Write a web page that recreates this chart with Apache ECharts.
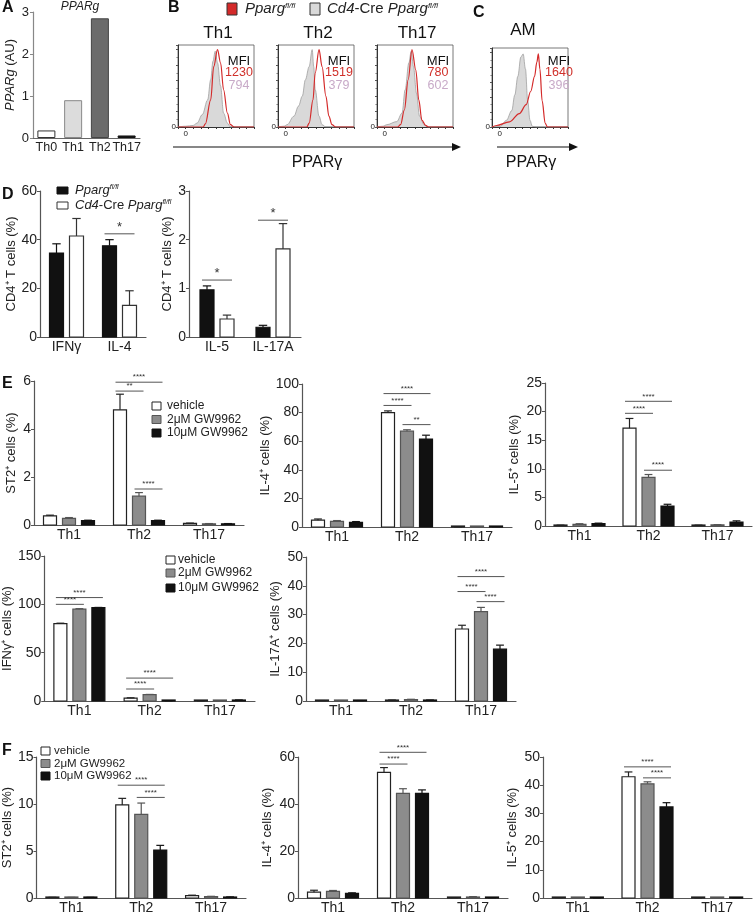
<!DOCTYPE html>
<html>
<head>
<meta charset="utf-8">
<script src="https://cdn.jsdelivr.net/npm/echarts@6/dist/echarts.min.js"></script>
<style>
html, body { margin: 0; padding: 0; background: #fff; }
#main { width: 754px; height: 915px; }
</style>
</head>
<body>
<div id="main"></div>
<script>
// ---- A: PPARg expression ----
var aCats = ['Th0', 'Th1', 'Th2', 'Th17'];
var aVals = [0.18, 0.9, 2.85, 0.06];

// ---- B / C: histograms, [x %, height %] ----
var th1Ko = [[0,0],[10,1],[20,2],[25,5],[32,16],[39,35],[43,61],[46,85],[49,98],[52,83],[56,53],[60,18],[65,5],[69,0],[100,0]];
var th1Fl = [[0,0],[33,0],[36,4],[43,35],[47,78],[52,100],[56,83],[60,48],[65,18],[69,3],[74,0],[100,0]];
var th2Ko = [[0,0],[8,1],[12,3],[21,14],[27,27],[32,40],[36,61],[41,78],[45,100],[47,78],[49,48],[54,14],[58,3],[63,0],[100,0]];
var th2Fl = [[0,0],[38,0],[41,5],[46,35],[49,70],[54,100],[58,78],[63,40],[67,14],[71,3],[76,0],[100,0]];
var th17Ko = [[0,0],[8,1],[13,3],[26,7],[33,18],[37,48],[42,83],[45,98],[48,78],[52,44],[56,14],[62,3],[66,0],[100,0]];
var th17Fl = [[0,0],[27,0],[31,3],[36,22],[41,61],[46,100],[51,74],[55,35],[59,9],[64,2],[68,0],[100,0]];
var amKo = [[0,0],[11,1],[19,9],[26,22],[30,43],[34,68],[38,94],[41,98],[44,78],[47,35],[50,9],[53,1],[58,0],[100,0]];
var amFl = [[0,0],[6,2],[23,7],[36,18],[45,30],[51,48],[56,68],[59,87],[61,98],[63,78],[66,35],[70,5],[73,0],[100,0]];
var histTitles = ['Th1', 'Th2', 'Th17', 'AM'];
var mfiFl = ['1230', '1519', '780', '1640'];
var mfiKo = ['794', '379', '602', '396'];

// ---- D ----
var dLeftCats = ['IFNγ', 'IL-4'];
var dLeftFl = [34.5, 37.5], dLeftFlSem = [3.8, 2.5];
var dLeftKo = [41.5, 13], dLeftKoSem = [7.2, 6];
var dLeftSig = [[1, 0, 1, 42.4, '*']];
var dRightCats = ['IL-5', 'IL-17A'];
var dRightFl = [0.97, 0.2], dRightFlSem = [0.08, 0.04];
var dRightKo = [0.37, 1.81], dRightKoSem = [0.08, 0.52];
var dRightSig = [[0, 0, 1, 1.17, '*'], [1, 0, 1, 2.4, '*']];

// ---- E / F: vehicle, 2uM, 10uM GW9962 ----
var thCats = ['Th1', 'Th2', 'Th17'];
var st2EVeh = [0.38, 4.8, 0.07], st2EVehSem = [0.03, 0.65, 0.01];
var st2EGw2 = [0.28, 1.2, 0.05], st2EGw2Sem = [0.03, 0.15, 0.01];
var st2EGw10 = [0.18, 0.18, 0.05], st2EGw10Sem = [0.02, 0.02, 0.01];
var st2ESig = [[1, 0, 2, 5.95, '****'], [1, 0, 1, 5.58, '**'], [1, 1, 2, 1.5, '****']];

var il4EVeh = [4.8, 80, 0.1], il4EVehSem = [0.8, 1.2, 0.05];
var il4EGw2 = [4, 67, 0.1], il4EGw2Sem = [0.5, 1, 0.05];
var il4EGw10 = [3.3, 61.5, 0.2], il4EGw10Sem = [0.5, 2.7, 0.05];
var il4ESig = [[1, 0, 2, 93.3, '****'], [1, 0, 1, 85, '****'], [1, 1, 2, 71.6, '**']];

var il5EVeh = [0.1, 17.1, 0.1], il5EVehSem = [0.05, 1.7, 0.05];
var il5EGw2 = [0.3, 8.5, 0.2], il5EGw2Sem = [0.1, 0.5, 0.05];
var il5EGw10 = [0.4, 3.5, 0.7], il5EGw10Sem = [0.1, 0.3, 0.2];
var il5ESig = [[1, 0, 2, 21.8, '****'], [1, 0, 1, 19.7, '****'], [1, 1, 2, 9.75, '****']];

var ifngEVeh = [80, 3, 0.2], ifngEVehSem = [0.5, 0.3, 0.05];
var ifngEGw2 = [95, 6.5, 0.3], ifngEGw2Sem = [0.5, 0.3, 0.05];
var ifngEGw10 = [96.5, 0.2, 1], ifngEGw10Sem = [0.3, 0.05, 0.1];
var ifngESig = [[0, 0, 2, 107, '****'], [0, 0, 1, 100, '****'], [1, 0, 2, 23.7, '****'], [1, 0, 1, 12.4, '****']];

var il17EVeh = [0.1, 0.3, 25], il17EVehSem = [0.05, 0.05, 1.3];
var il17EGw2 = [0.1, 0.5, 31], il17EGw2Sem = [0.05, 0.1, 1.5];
var il17EGw10 = [0.1, 0.3, 18], il17EGw10Sem = [0.05, 0.05, 1.4];
var il17ESig = [[2, 0, 2, 43.2, '****'], [2, 0, 1, 38, '****'], [2, 1, 2, 34.5, '****']];

var st2FVeh = [0.05, 9.9, 0.25], st2FVehSem = [0.02, 0.7, 0.05];
var st2FGw2 = [0.05, 8.9, 0.15], st2FGw2Sem = [0.02, 1.2, 0.03];
var st2FGw10 = [0.05, 5.1, 0.1], st2FGw10Sem = [0.02, 0.5, 0.02];
var st2FSig = [[1, 0, 2, 12, '****'], [1, 1, 2, 10.7, '****']];

var il4FVeh = [2.5, 53.5, 0.1], il4FVehSem = [0.8, 2, 0.05];
var il4FGw2 = [2.8, 44.5, 0.4], il4FGw2Sem = [0.4, 2, 0.2];
var il4FGw10 = [2, 44.5, 0.1], il4FGw10Sem = [0.2, 1.5, 0.05];
var il4FSig = [[1, 0, 2, 62, '****'], [1, 0, 1, 57, '****']];

var il5FVeh = [0.1, 43, 0.05], il5FVehSem = [0.05, 1.7, 0.02];
var il5FGw2 = [0.05, 40.5, 0.05], il5FGw2Sem = [0.02, 0.7, 0.02];
var il5FGw10 = [0.05, 32.3, 0.1], il5FGw10Sem = [0.02, 1.5, 0.03];
var il5FSig = [[1, 0, 2, 46.5, '****'], [1, 1, 2, 42.6, '****']];

var FONT = '"Liberation Sans", Arial, sans-serif';
var option = { animation: false, backgroundColor: '#fff', grid: [], xAxis: [], yAxis: [], series: [], graphic: [] };

function barRenderer(off, w, fill, stroke) {
  return function (params, api) {
    var top = api.coord([api.value(0), api.value(1)]);
    var base = api.coord([api.value(0), 0]);
    var err = api.coord([api.value(0), api.value(2)]);
    var cx = top[0] + off;
    var h = Math.max(base[1] - top[1], 1);
    var kids = [{ type: 'rect', shape: { x: cx - w / 2, y: base[1] - h, width: w, height: h },
      style: { fill: fill, stroke: stroke, lineWidth: 1.2 } }];
    if (api.value(2) > api.value(1)) {
      kids.push({ type: 'line', shape: { x1: cx, y1: top[1], x2: cx, y2: err[1] }, style: { stroke: stroke, lineWidth: 1.2 } });
      kids.push({ type: 'line', shape: { x1: cx - w * 0.3, y1: err[1], x2: cx + w * 0.3, y2: err[1] }, style: { stroke: stroke, lineWidth: 1.2 } });
    }
    return { type: 'group', children: kids };
  };
}

function sigRenderer(offs, w, sig) {
  return function (params, api) {
    var s = sig[params.dataIndex];
    var p = api.coord([api.value(0), api.value(1)]);
    var x1 = p[0] + offs[s[1]] - w / 2 + 2, x2 = p[0] + offs[s[2]] + w / 2 - 2;
    return { type: 'group', children: [
      { type: 'line', shape: { x1: x1, y1: p[1], x2: x2, y2: p[1] }, style: { stroke: '#555', lineWidth: 1 } },
      { type: 'text', style: { text: s[4], x: (x1 + x2) / 2, y: p[1] - (s[4] === '*' ? 0 : 1), align: 'center', verticalAlign: 'bottom',
        fontSize: s[4] === '*' ? 13 : 8, fontFamily: FONT, fill: '#333' } }
    ] };
  };
}

function barPanel(p) {
  var gi = option.grid.length;
  option.grid.push({ left: p.left, top: p.top, width: p.width, height: p.height });
  option.xAxis.push({ gridIndex: gi, type: 'category', data: p.cats,
    axisTick: { show: false }, axisLine: { lineStyle: { color: '#555', width: 1.2 } },
    axisLabel: { interval: 0, color: '#222', fontSize: p.xFont || 14, margin: 3, fontFamily: FONT } });
  option.yAxis.push({ gridIndex: gi, type: 'value', min: 0, max: p.max, interval: p.interval,
    splitLine: { show: false }, axisLine: { show: true, lineStyle: { color: '#555', width: 1.2 } },
    axisTick: { show: true, length: 3, lineStyle: { color: '#555' } },
    axisLabel: { color: '#222', fontSize: 14, margin: 3, fontFamily: FONT },
    name: p.yName, nameLocation: 'middle', nameGap: p.nameGap,
    nameTextStyle: { fontSize: 13, fontFamily: FONT, color: '#222' } });
  p.groups.forEach(function (g, k) {
    option.series.push({ type: 'custom', xAxisIndex: gi, yAxisIndex: gi, encode: { x: 0, y: [1, 2] },
      data: g.mean.map(function (m, i) { return [i, m, g.sem ? m + g.sem[i] : m]; }),
      renderItem: barRenderer(p.offsets[k], p.barW, g.fill, g.stroke), z: 2 });
  });
  if (p.sig) {
    option.series.push({ type: 'custom', xAxisIndex: gi, yAxisIndex: gi, encode: { x: 0, y: 1 },
      data: p.sig.map(function (s) { return [s[0], s[3]]; }),
      renderItem: sigRenderer(p.offsets, p.barW, p.sig), z: 3 });
  }
}

function histPanel(left, top, w, h, ko, fl) {
  var gi = option.grid.length;
  option.grid.push({ left: left, top: top, width: w, height: h, show: true, borderColor: '#555', borderWidth: 0.8 });
  option.xAxis.push({ gridIndex: gi, type: 'value', min: 0, max: 100, interval: 10, splitLine: { show: false },
    axisLine: { lineStyle: { color: '#333', width: 1 } }, axisTick: { length: 2, lineStyle: { color: '#333' } },
    axisLabel: { fontSize: 8, margin: 3, color: '#222', fontFamily: FONT, formatter: function (v) { return v === 10 ? '0' : ''; } } });
  option.yAxis.push({ gridIndex: gi, type: 'value', min: 0, max: 106, interval: 20, splitLine: { show: false },
    axisLine: { show: true, lineStyle: { color: '#333', width: 1 } }, axisTick: { show: true, length: 2, lineStyle: { color: '#555' } },
    minorTick: { show: true, splitNumber: 2, length: 1.5, lineStyle: { color: '#777' } },
    axisLabel: { fontSize: 8, margin: 2, color: '#222', fontFamily: FONT, formatter: function (v) { return v === 0 ? '0' : ''; } } });
  option.series.push({ type: 'line', xAxisIndex: gi, yAxisIndex: gi, data: ko, showSymbol: false, symbol: 'none',
    smooth: 0.35, smoothMonotone: 'x', lineStyle: { color: '#a0a0a0', width: 0.8 }, areaStyle: { color: '#d9d9d9', opacity: 1 }, z: 2 });
  option.series.push({ type: 'line', xAxisIndex: gi, yAxisIndex: gi, data: fl, showSymbol: false, symbol: 'none',
    smooth: 0.35, smoothMonotone: 'x', lineStyle: { color: '#d42a2a', width: 1.2 }, z: 3 });
}

function txt(x, y, text, font, fill, align, rich) {
  option.graphic.push({ type: 'text', x: x, y: y, silent: true,
    style: { text: text, font: font, fill: fill || '#222', align: align || 'left', textAlign: align || 'left',
      verticalAlign: 'middle', textVerticalAlign: 'middle', rich: rich } });
}
function box(x, y, w, h, fill, stroke) {
  option.graphic.push({ type: 'rect', silent: true, shape: { x: x, y: y, width: w, height: h },
    style: { fill: fill, stroke: stroke || '#222', lineWidth: 1 } });
}

// ---- A ----
var aFill = ['#ffffff', '#dcdcdc', '#6b6b6b', '#1a1a1a'];
var aStroke = ['#333', '#888', '#444', '#111'];
option.grid.push({ left: 33, top: 12, width: 107, height: 126 });
option.xAxis.push({ gridIndex: 0, type: 'category', data: aCats, axisTick: { show: false },
  axisLine: { lineStyle: { color: '#666', width: 1.2 } },
  axisLabel: { interval: 0, fontSize: 12.5, margin: 3, color: '#222', fontFamily: FONT } });
option.yAxis.push({ gridIndex: 0, type: 'value', min: 0, max: 3, interval: 1, splitLine: { show: false },
  axisLine: { show: true, lineStyle: { color: '#888', width: 1.2 } }, axisTick: { show: true, length: 3, lineStyle: { color: '#888' } },
  axisLabel: { fontSize: 13, margin: 4, color: '#222', fontFamily: FONT },
  name: '{i|PPARg} (AU)', nameLocation: 'middle', nameGap: 16,
  nameTextStyle: { fontSize: 13, fontFamily: FONT, color: '#222', rich: { i: { fontStyle: 'italic', fontSize: 13, fontFamily: FONT } } } });
option.series.push({ type: 'bar', xAxisIndex: 0, yAxisIndex: 0, barWidth: 18,
  data: aVals.map(function (v, i) { return { value: v, itemStyle: { color: aFill[i], borderColor: aStroke[i], borderWidth: 1 } }; }) });
txt(2, 8, 'A', 'bold 16px ' + FONT, '#111');
txt(80, 7, 'PPARg', 'italic 12px ' + FONT, '#222', 'center');

// ---- B / C ----
var histLeft = [178, 278, 377, 492];
var histTop = [45, 45, 45, 48];
var histW = [76, 76, 76, 76];
var histData = [[th1Ko, th1Fl], [th2Ko, th2Fl], [th17Ko, th17Fl], [amKo, amFl]];
histData.forEach(function (d, i) {
  histPanel(histLeft[i], histTop[i], histW[i], 127 - histTop[i], d[0], d[1]);
  var mx = histLeft[i] + histW[i] - (i === 3 ? 9 : 15);
  txt(histLeft[i] + (i === 3 ? 31 : 40), 33 - (i === 3 ? 3 : 0), histTitles[i], '17px ' + FONT, '#111', 'center');
  txt(mx, 61, 'MFI', '13px ' + FONT, '#111', 'center');
  txt(mx, 73, mfiFl[i], '12.5px ' + FONT, '#d0302a', 'center');
  txt(mx, 86, mfiKo[i], '12.5px ' + FONT, '#c8aac8', 'center');
});
txt(168, 8, 'B', 'bold 16px ' + FONT, '#111');
txt(473, 13, 'C', 'bold 16px ' + FONT, '#111');
box(227, 3, 10, 12, '#d42a2a', '#333');
txt(245, 9, '{i|Pparg}{s|fl/fl}', 'italic 15px ' + FONT, '#222', 'left',
  { i: { font: 'italic 15px ' + FONT, fill: '#222' }, s: { font: 'italic 8px ' + FONT, fill: '#222', verticalAlign: 'top', padding: [0, 0, 7, 0] } });
box(310, 3, 10, 12, '#d9d9d9', '#333');
txt(327, 9, '{i|Cd4}{n|-Cre }{i|Pparg}{s|fl/fl}', 'italic 15px ' + FONT, '#222', 'left',
  { i: { font: 'italic 15px ' + FONT, fill: '#222' }, n: { font: '15px ' + FONT, fill: '#222' },
    s: { font: 'italic 8px ' + FONT, fill: '#222', verticalAlign: 'top', padding: [0, 0, 7, 0] } });
// axis arrows
option.graphic.push({ type: 'line', silent: true, shape: { x1: 173, y1: 147, x2: 454, y2: 147 }, style: { stroke: '#111', lineWidth: 1.2 } });
option.graphic.push({ type: 'polygon', silent: true, shape: { points: [[452, 143], [461, 147], [452, 151]] }, style: { fill: '#111' } });
option.graphic.push({ type: 'line', silent: true, shape: { x1: 497, y1: 147, x2: 571, y2: 147 }, style: { stroke: '#111', lineWidth: 1.2 } });
option.graphic.push({ type: 'polygon', silent: true, shape: { points: [[569, 143], [578, 147], [569, 151]] }, style: { fill: '#111' } });
txt(317, 163, 'PPARγ', '16px ' + FONT, '#111', 'center');
txt(531, 163, 'PPARγ', '16px ' + FONT, '#111', 'center');

// ---- D ----
var dGroups = function (fl, flSem, ko, koSem) {
  return [{ mean: fl, sem: flSem, fill: '#111', stroke: '#111' }, { mean: ko, sem: koSem, fill: '#fff', stroke: '#333' }];
};
barPanel({ left: 40, top: 191, width: 106, height: 146, cats: dLeftCats, max: 60, interval: 20,
  yName: 'CD4⁺ T cells (%)', nameGap: 22, offsets: [-10, 10], barW: 14,
  groups: dGroups(dLeftFl, dLeftFlSem, dLeftKo, dLeftKoSem), sig: dLeftSig });
barPanel({ left: 189, top: 191, width: 112, height: 146, cats: dRightCats, max: 3, interval: 1,
  yName: 'CD4⁺ T cells (%)', nameGap: 9, offsets: [-10, 10], barW: 14,
  groups: dGroups(dRightFl, dRightFlSem, dRightKo, dRightKoSem), sig: dRightSig });
txt(2, 195, 'D', 'bold 16px ' + FONT, '#111');
box(57, 187, 11, 7, '#111', '#111');
box(57, 202, 11, 7, '#fff', '#333');
var dRich = { i: { font: 'italic 13px ' + FONT, fill: '#222' }, n: { font: '13px ' + FONT, fill: '#222' },
  s: { font: 'italic 7px ' + FONT, fill: '#222', verticalAlign: 'top', padding: [0, 0, 6, 0] } };
txt(75, 190, '{i|Pparg}{s|fl/fl}', 'italic 13px ' + FONT, '#222', 'left', dRich);
txt(75, 205, '{i|Cd4}{n|-Cre }{i|Pparg}{s|fl/fl}', 'italic 13px ' + FONT, '#222', 'left', dRich);

// ---- E / F ----
var trtFill = ['#ffffff', '#8c8c8c', '#111111'];
var trtStroke = ['#222', '#555', '#111'];
function trt(veh, vehSem, gw2, gw2Sem, gw10, gw10Sem) {
  return [{ mean: veh, sem: vehSem, fill: trtFill[0], stroke: trtStroke[0] },
          { mean: gw2, sem: gw2Sem, fill: trtFill[1], stroke: trtStroke[1] },
          { mean: gw10, sem: gw10Sem, fill: trtFill[2], stroke: trtStroke[2] }];
}
var eOff = [-19, 0, 19];
barPanel({ left: 34, top: 381, width: 210, height: 144, cats: thCats, max: 6, interval: 2,
  yName: 'ST2⁺ cells (%)', nameGap: 16, offsets: eOff, barW: 13,
  groups: trt(st2EVeh, st2EVehSem, st2EGw2, st2EGw2Sem, st2EGw10, st2EGw10Sem), sig: st2ESig });
barPanel({ left: 302, top: 384, width: 210, height: 143, cats: thCats, max: 100, interval: 20,
  yName: 'IL-4⁺ cells (%)', nameGap: 28, offsets: eOff, barW: 13,
  groups: trt(il4EVeh, il4EVehSem, il4EGw2, il4EGw2Sem, il4EGw10, il4EGw10Sem), sig: il4ESig });
barPanel({ left: 545, top: 383, width: 207, height: 143, cats: thCats, max: 25, interval: 5,
  yName: 'IL-5⁺ cells (%)', nameGap: 24, offsets: eOff, barW: 13,
  groups: trt(il5EVeh, il5EVehSem, il5EGw2, il5EGw2Sem, il5EGw10, il5EGw10Sem), sig: il5ESig });
barPanel({ left: 42, top: 556, width: 213, height: 145, cats: thCats, max: 150, interval: 50,
  yName: 'IFNγ⁺ cells (%)', nameGap: 24, offsets: eOff, barW: 13,
  groups: trt(ifngEVeh, ifngEVehSem, ifngEGw2, ifngEGw2Sem, ifngEGw10, ifngEGw10Sem), sig: ifngESig });
barPanel({ left: 306, top: 557, width: 210, height: 144, cats: thCats, max: 50, interval: 10,
  yName: 'IL-17A⁺ cells (%)', nameGap: 24, offsets: eOff, barW: 13,
  groups: trt(il17EVeh, il17EVehSem, il17EGw2, il17EGw2Sem, il17EGw10, il17EGw10Sem), sig: il17ESig });
barPanel({ left: 36, top: 757, width: 210, height: 142, cats: thCats, max: 15, interval: 5,
  yName: 'ST2⁺ cells (%)', nameGap: 18, offsets: eOff, barW: 13,
  groups: trt(st2FVeh, st2FVehSem, st2FGw2, st2FGw2Sem, st2FGw10, st2FGw10Sem), sig: st2FSig });
barPanel({ left: 298, top: 757, width: 210, height: 142, cats: thCats, max: 60, interval: 20,
  yName: 'IL-4⁺ cells (%)', nameGap: 24, offsets: eOff, barW: 13,
  groups: trt(il4FVeh, il4FVehSem, il4FGw2, il4FGw2Sem, il4FGw10, il4FGw10Sem), sig: il4FSig });
barPanel({ left: 543, top: 757, width: 209, height: 142, cats: thCats, max: 50, interval: 10,
  yName: 'IL-5⁺ cells (%)', nameGap: 24, offsets: eOff, barW: 13,
  groups: trt(il5FVeh, il5FVehSem, il5FGw2, il5FGw2Sem, il5FGw10, il5FGw10Sem), sig: il5FSig });

txt(2, 384, 'E', 'bold 16px ' + FONT, '#111');
txt(2, 751, 'F', 'bold 16px ' + FONT, '#111');
var trtNames = ['vehicle', '2μM GW9962', '10μM GW9962'];
function trtLegend(x, ys, tx, size) {
  ys.forEach(function (y, i) {
    box(x, y - 4, 9, 8, trtFill[i], trtStroke[i]);
    txt(tx, y, trtNames[i], size + 'px ' + FONT, '#222');
  });
}
trtLegend(152, [406, 419.5, 433], 167, 12);
trtLegend(166, [560, 573, 588], 178, 12);
trtLegend(41, [751, 763.5, 776], 54, 11.5);

echarts.init(document.getElementById('main')).setOption(option);
</script>
</body>
</html>
